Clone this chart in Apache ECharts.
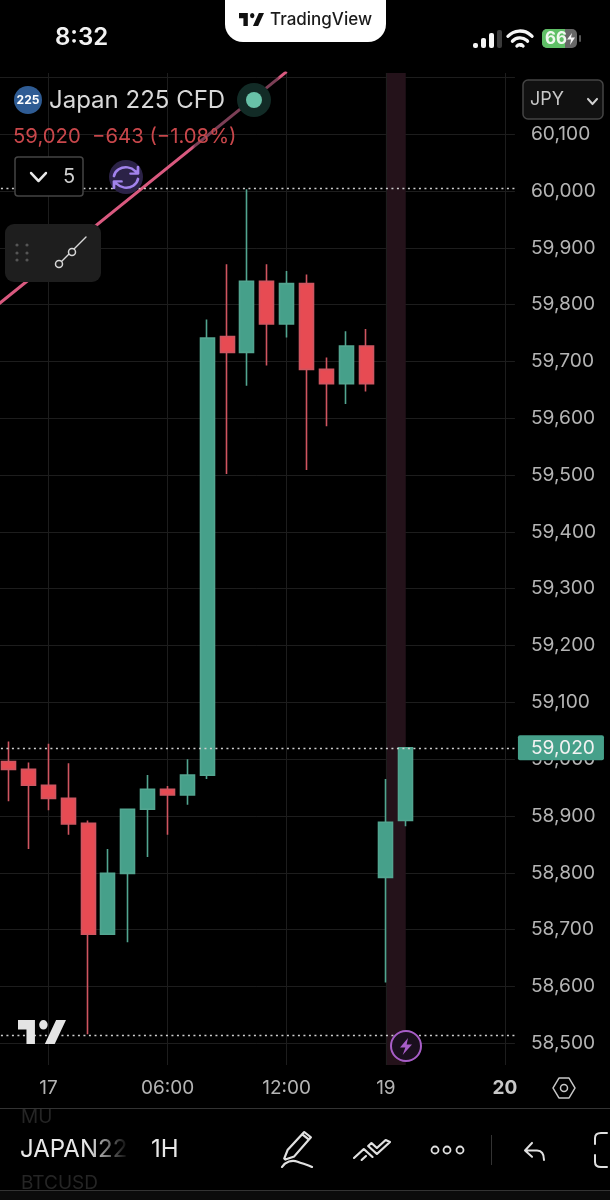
<!DOCTYPE html>
<html>
<head>
<meta charset="utf-8">
<style>
  html, body { margin: 0; padding: 0; background: #000; }
  #chart { width: 610px; height: 1200px; }
</style>
<script src="https://cdn.jsdelivr.net/npm/echarts@6/dist/echarts.min.js"></script>
</head>
<body>
<div id="chart"></div>
<script>
// hourly bars, first one is off screen on the left
const categories = ["22:00", "23:00", "00:00", "17", "01:00", "02:00", "03:00", "04:00", "05:00", "06:00",
  "07:00", "08:00", "09:00", "10:00", "11:00", "12:00", "13:00", "14:00", "15:00", "16:00",
  "19", "01:00", "02:00", "03:00", "04:00", "05:00", "20"];
const timeLabels = ["17", "06:00", "12:00", "19", "20"];
const timeLabelIndex = [3, 9, 15, 20, 26];
// open, close, low, high
const candles = [
  "-",
  [58996, 58982, 58926, 59031],
  [58982, 58954, 58842, 58994],
  [58954, 58931, 58910, 59027],
  [58931, 58886, 58867, 58993],
  [58887, 58692, 58516, 58892],
  [58692, 58799, 58692, 58842],
  [58799, 58912, 58678, 58913],
  [58912, 58947, 58828, 58972],
  [58947, 58937, 58867, 58953],
  [58937, 58972, 58920, 59000],
  [58972, 59741, 58965, 59774],
  [59744, 59716, 59502, 59871],
  [59716, 59841, 59657, 60003],
  [59841, 59766, 59693, 59871],
  [59766, 59837, 59742, 59859],
  [59837, 59686, 59509, 59853],
  [59686, 59661, 59586, 59707],
  [59661, 59727, 59625, 59753],
  [59727, 59661, 59647, 59757],
  [58792, 58889, 58607, 58965],
  [58892, 59020, 58882, 59020],
];
const priceTicks = [58500, 58600, 58700, 58800, 58900, 59000, 59100, 59200, 59300, 59400, 59500,
  59600, 59700, 59800, 59900, 60000, 60100, 60200];
const priceLabels = priceTicks.slice(0, -1);
const trendLine = [[0, 59787], [15, 60210]];
const dottedLevels = [60004, 58515];
const lastPrice = 59020;
const sessionBand = [20, 21];

const green = "#46a08a";
const red = "#e74b53";
const font = "Inter";

const chart = echarts.init(document.getElementById("chart"));

const txt = (x, y, text, fontSize, fill, extra) => ({
  type: "text", x, y, z: 20,
  style: Object.assign({ text, fontSize, fill, fontFamily: font, verticalAlign: "middle" }, extra),
});
const rect = (x, y, width, height, r, fill, stroke) => ({
  type: "rect", z: 15,
  shape: { x, y, width, height, r },
  style: { fill, stroke: stroke || null, lineWidth: 1.5 },
});
const circ = (cx, cy, r, fill, stroke, lineWidth) => ({
  type: "circle", z: 16,
  shape: { cx, cy, r },
  style: { fill, stroke: stroke || null, lineWidth: lineWidth || 1 },
});
// graphic has no path type, so svg icons get registered as shapes
let iconCount = 0;
const icon = (pathData, x, y, width, height, style) => {
  const Clz = echarts.graphic.extendPath(pathData, {});
  const box = new Clz().getBoundingRect();
  const name = "icon" + iconCount++;
  echarts.graphic.registerShape(name, Clz);
  const scaleX = width / box.width, scaleY = height / box.height;
  return {
    type: name, z: 20,
    x: x - box.x * scaleX, y: y - box.y * scaleY, scaleX, scaleY,
    style: Object.assign({ fill: "none", lineCap: "round", lineJoin: "round" }, style),
  };
};
const tvLogo = "M14 6H2v6h6v9h6V6zM28 21h-7l8-15h7l-8 15zM20 12a3 3 0 1 0 0-6 3 3 0 0 0 0 6z";
const fade = (x, y, w, h) => ({
  type: "rect", z: 21,
  shape: { x, y, width: w, height: h },
  style: { fill: new echarts.graphic.LinearGradient(0, 0, 1, 0, [
    { offset: 0, color: "rgba(0,0,0,0)" },
    { offset: 0.75, color: "rgba(0,0,0,1)" },
    { offset: 1, color: "rgba(0,0,0,1)" },
  ]) },
});

const chrome = [
  // status bar
  txt(55, 38, "8:32", 24, "#f2f2f2", { fontWeight: 600 }),
  rect(473, 43, 5, 5, 2, "#f5f5f5"),
  rect(481, 38, 5, 10, 2, "#f5f5f5"),
  rect(489, 33, 5, 15, 2, "#f5f5f5"),
  rect(497, 30, 5, 18, 2, "#3a3a3a"),
  icon("M1 8a16 16 0 0 1 24 0M5.5 13a10 10 0 0 1 15 0M10 18a4 4 0 0 1 6 0", 508, 31, 24, 15, { stroke: "#f5f5f5", lineWidth: 3.4 }),
  circ(521, 45, 2, "#f5f5f5"),
  rect(542, 29, 35, 19, 5, "#666"),
  rect(542, 29, 23, 19, [5, 0, 0, 5], "#5fbf66"),
  rect(579, 35, 2, 7, 1, "#555"),
  txt(545, 39, "66", 17, "#eef7ee", { fontWeight: 700 }),
  icon("M5 0L0 7h4l-1 6 5-8H4z", 567, 33, 8, 12, { fill: "#f2f2f2" }),
  // TradingView tab
  rect(225, -20, 161, 62, 18, "#ffffff"),
  icon(tvLogo, 239, 13, 25, 13, { fill: "#111" }),
  txt(270, 20, "TradingView", 17, "#1a1a1a", { fontWeight: 500 }),
  // legend
  circ(28, 100, 14, "#2f5c94"),
  txt(28, 100, "225", 12, "#fff", { align: "center", fontWeight: 700 }),
  txt(49, 101, "Japan 225 CFD", 24, "#d8d8d8"),
  circ(254, 100, 17, "#122b26"),
  circ(254, 100, 8, "#68c2a8"),
  txt(13, 137, "59,020  \u2212643 (\u22121.08%)", 20.3, "#c9474b"),
  rect(15, 157, 68, 39, 3, "#000", "#444"),
  icon("M0 0L7 7L14 0", 31, 173, 15, 8, { stroke: "#e8e8e8", lineWidth: 2.2 }),
  txt(63, 177, "5", 20, "#cfcfcf"),
  circ(126, 177, 17, "#2b2247"),
  icon("M1 8a8 8 0 0 1 14-4l2 2M17 10a8 8 0 0 1-14 4l-2-2M17 1v5h-5M1 17v-5h5", 114, 167, 24, 21, { stroke: "#a283ec", lineWidth: 1.8 }),
  // drawing tool panel
  rect(5, 224, 96, 58, 9, "#1e1e1e"),
  circ(17, 245, 1.6, "#555"), circ(27, 245, 1.6, "#555"),
  circ(17, 253, 1.6, "#555"), circ(27, 253, 1.6, "#555"),
  circ(17, 260, 1.6, "#555"), circ(27, 260, 1.6, "#555"),
  icon("M0 27L27 0", 59, 237, 27, 27, { stroke: "#d8d8d8", lineWidth: 1.4 }),
  Object.assign(circ(59, 264, 3.5, "#1e1e1e", "#d8d8d8", 1.5), { z: 21 }),
  Object.assign(circ(72, 252, 3.5, "#1e1e1e", "#d8d8d8", 1.5), { z: 21 }),
  // currency button
  rect(523, 80, 80, 39, 5, "#111", "#444"),
  txt(530, 100, "JPY", 18, "#c8c8c8"),
  icon("M0 0L4 4L8 0", 588, 99, 9, 5, { stroke: "#d0d0d0", lineWidth: 1.8 }),
  // chart logo, bolt, settings
  icon(tvLogo, 18, 1020, 48, 24, { fill: "#e4e4e4" }),
  circ(406, 1046, 15, "#1a0f1e", "#a85ec8", 2),
  icon("M6 0L0 9h4l-2 7 7-10H5z", 400, 1038, 12, 17, { fill: "#a85ec8" }),
  icon("M6 0h10l6 11-6 11H6L0 11z", 553, 1078, 22, 20, { stroke: "#c8c8c8", lineWidth: 1.6 }),
  circ(564, 1088, 3.5, "#000", "#c8c8c8", 1.5),
  // bottom toolbar
  rect(0, 1108, 610, 1, 0, "#333"),
  rect(0, 1190, 610, 1, 0, "#333"),
  rect(0, 1191, 610, 9, 0, "#0b0b0b"),
  txt(21, 1117, "MU", 19, "#252525"),
  txt(20, 1150, "JAPAN225", 24, "#e8e8e8"),
  txt(21, 1183, "BTCUSD", 19, "#252525"),
  fade(88, 1130, 55, 40),
  txt(151, 1150, "1H", 24, "#e8e8e8"),
  icon("M2 34c3-5 9-7 14-5s9 3 13 5M4 26l3-8L22 1l6 5L13 24l-8 3zM20 3l6 5", 282, 1132, 30, 35, { stroke: "#e0e0e0", lineWidth: 2 }),
  icon("M1 18l9-9 8 8M8 20l4-4M14 6l8 8L34 2l-4-2-8 8-5-5z", 354, 1140, 36, 20, { stroke: "#e0e0e0", lineWidth: 2 }),
  circ(435, 1150, 3.5, "#000", "#e0e0e0", 1.8),
  circ(447, 1150, 3.5, "#000", "#e0e0e0", 1.8),
  circ(460, 1150, 3.5, "#000", "#e0e0e0", 1.8),
  rect(491, 1135, 1, 30, 0, "#333"),
  icon("M7 0L0 7l7 6M0 7h12c5 0 7 4 7 9", 525, 1143, 19, 17, { stroke: "#e0e0e0", lineWidth: 2 }),
  icon("M12 0H6C2 0 0 2 0 5v6M0 22v7c0 3 2 5 6 5h6", 595, 1133, 12, 34, { stroke: "#e0e0e0", lineWidth: 2 }),
];

chart.setOption({
  animation: false,
  backgroundColor: "#000",
  grid: { left: -21.07, top: 73, width: 536, height: 992, outerBoundsMode: "none" },
  xAxis: {
    type: "category",
    data: categories,
    axisLine: { show: false },
    axisTick: { show: false },
    splitLine: { show: false },
    axisLabel: {
      margin: 14,
      fontFamily: font,
      fontSize: 19,
      color: "#b4b4b4",
      interval: (i) => timeLabelIndex.includes(i),
      formatter: (v, i) => {
        const k = timeLabelIndex.indexOf(i);
        if (k < 0) return "";
        return k === timeLabels.length - 1 ? "{b|" + timeLabels[k] + "}" : timeLabels[k];
      },
      rich: { b: { fontFamily: font, fontSize: 19, fontWeight: 700, color: "#c8c8c8" } },
    },
  },
  yAxis: {
    type: "value",
    position: "right",
    min: 58461.8,
    max: 60207.6,
    axisLine: { show: false },
    axisTick: { show: false, customValues: priceTicks },
    splitLine: { show: true, lineStyle: { color: "#1d1d1d", width: 1 } },
    axisLabel: {
      customValues: priceLabels,
      margin: 16,
      fontFamily: font,
      fontSize: 19.2,
      color: "#b4b4b4",
      formatter: (v) => v.toLocaleString("en-US"),
    },
  },
  graphic: chrome,
  series: [
    {
      // vertical grid lines and the session band
      type: "line",
      data: [],
      z: 1,
      silent: true,
      markArea: {
        silent: true,
        z: 1,
        itemStyle: { color: "#24121a" },
        data: [[{ xAxis: sessionBand[0] }, { xAxis: sessionBand[1] }]],
      },
      markLine: {
        silent: true,
        z: 1,
        symbol: "none",
        label: { show: false },
        lineStyle: { color: "#1d1d1d", type: "solid", width: 1 },
        data: timeLabelIndex.map((i) => ({ xAxis: i })),
      },
    },
    {
      type: "candlestick",
      data: candles,
      z: 3,
      barWidth: 14.5,
      itemStyle: {
        color: green,
        color0: red,
        borderColor: "#52a590",
        borderColor0: "#cf5560",
        borderWidth: 1.6,
      },
    },
    {
      type: "line",
      data: trendLine,
      z: 4,
      symbol: "none",
      silent: true,
      lineStyle: {
        width: 3,
        color: new echarts.graphic.LinearGradient(0, 0, 1, 0, [
          { offset: 0, color: "#d9597f" },
          { offset: 0.68, color: "#d9597f" },
          { offset: 0.69, color: "#7c3f56" },
          { offset: 0.96, color: "#7c3f56" },
          { offset: 0.97, color: "#d9597f" },
          { offset: 1, color: "#d9597f" },
        ]),
      },
    },
    {
      // dotted high / low / last price levels
      type: "line",
      data: [],
      z: 5,
      silent: true,
      markLine: {
        silent: true,
        z: 5,
        symbol: "none",
        lineStyle: { color: "#cfcfcf", type: [2, 3.5], width: 1.3 },
        label: { show: false },
        data: dottedLevels.map((v) => ({ yAxis: v })).concat([{
          yAxis: lastPrice,
          label: {
            show: true,
            position: "end",
            distance: 3,
            formatter: lastPrice.toLocaleString("en-US"),
            fontFamily: font,
            fontSize: 19.2,
            color: "#f2f2f2",
            backgroundColor: green,
            borderRadius: 2,
            padding: [3, 9, 3, 13],
          },
        }]),
      },
    },
  ],
});
</script>
</body>
</html>
